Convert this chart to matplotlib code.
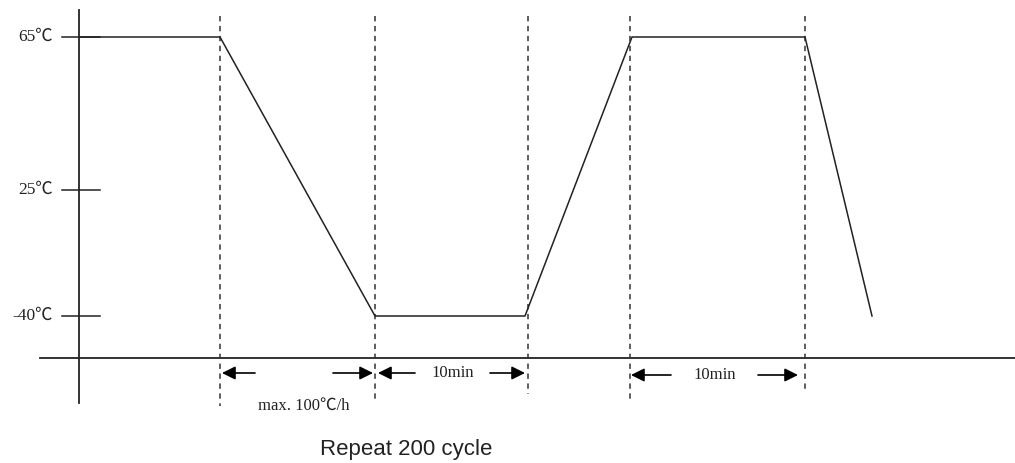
import numpy as np
import matplotlib
matplotlib.use("Agg")
import matplotlib.pyplot as plt

# temperature levels shown on the axis (schematic, not linear)
temp_levels = [-40, 25, 65]
temp_labels = ["-40℃", "25℃", "65℃"]
level_height = [316, 190, 37]

# profile: schematic time positions and temperatures
profile_t = [80, 220, 375, 525, 632, 805, 872]
profile_temp = [65, 65, -40, -40, 65, 65, -40]

# phase boundaries (dashed lines) and how low each one reaches
phase_t = [220, 375, 528, 630, 805]
phase_bottom = [406, 402, 394, 402, 390]

# dimension arrows: (start, end, y) and labels
arrows = [(255, 222, 373), (333, 373, 373), (415, 378, 373),
          (490, 525, 373), (671, 631, 375), (758, 798, 375)]
notes = [("max. 100℃/h", 304, 406), ("10min", 453, 373), ("10min", 715, 375)]

serif = ["Liberation Serif", "Noto Sans CJK SC"]


def ypos(temp):
    return np.interp(temp, temp_levels, level_height)


fig = plt.figure(figsize=(10.15, 4.63), dpi=100)
ax = fig.add_axes([0, 0, 1, 1])
ax.set_xlim(0, 1015)
ax.set_ylim(463, 0)
ax.axis("off")

# axes
ax.plot([79, 79], [10, 403], color="#222222", lw=1.3)
ax.plot([40, 1015], [358, 358], color="#222222", lw=1.3)

# ticks and labels
for temp, lab in zip(temp_levels, temp_labels):
    y = ypos(temp)
    ax.plot([62, 100], [y, y], color="#222222", lw=1.1)
    ax.text(53, y, lab, ha="right", va="center", fontsize=12.5,
            family=serif, color="#222222")

# dashed phase lines
for t, b in zip(phase_t, phase_bottom):
    ax.plot([t, t], [16, b], color="#333333", lw=1.1, ls=(0, (3.5, 3)))

# temperature profile
ax.plot(profile_t, ypos(np.array(profile_temp)), color="#222222", lw=1.1)

# arrows
for x0, x1, y in arrows:
    ax.annotate("", xy=(x1, y), xytext=(x0, y),
                arrowprops=dict(arrowstyle="-|>", color="black", lw=1.2,
                                mutation_scale=20, shrinkA=0, shrinkB=0))

for txt, x, y in notes:
    ax.text(x, y, txt, ha="center", va="center", fontsize=12,
            family=serif, color="#222222")

ax.text(406, 450, "Repeat 200 cycle", ha="center", va="center",
        fontsize=16, family="Liberation Sans", color="#222222")

fig.savefig("out.png", dpi=100)
